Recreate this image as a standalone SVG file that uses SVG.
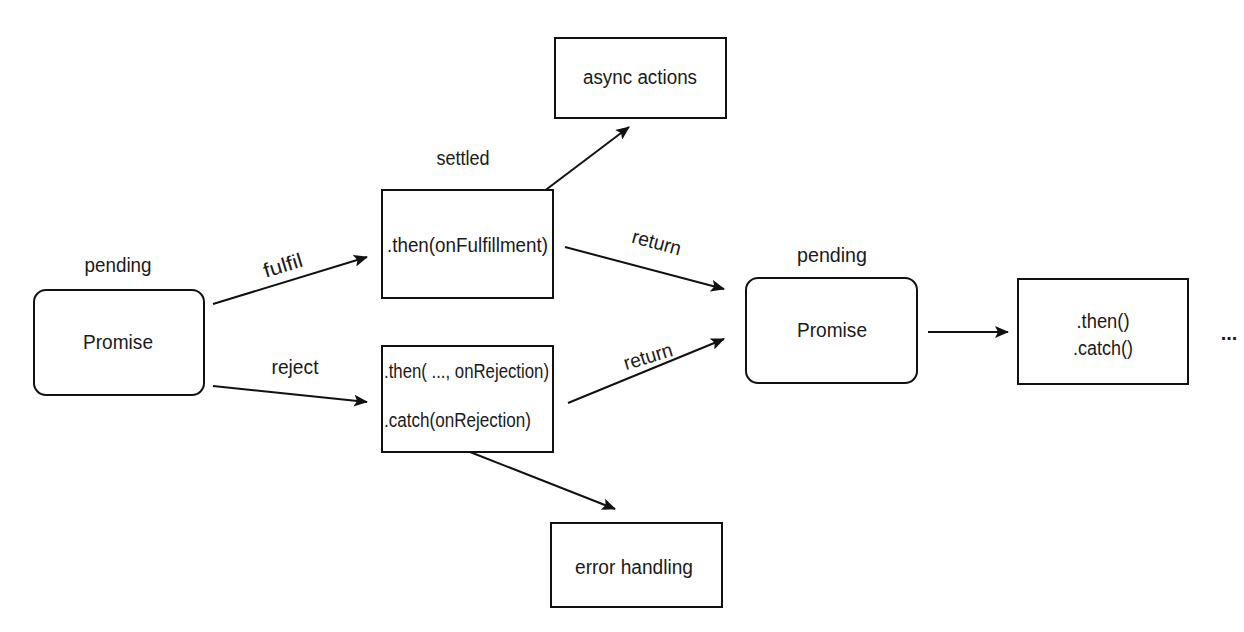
<svg xmlns="http://www.w3.org/2000/svg" width="1244" height="632" viewBox="0 0 1244 632">
<style>
.t{font-family:"Liberation Sans",Arial,sans-serif;font-size:20px;fill:#1a1a1a}
.m{text-anchor:middle}
.box{fill:#fff;stroke:#111;stroke-width:2}
.ln{stroke:#111;stroke-width:2;fill:none;marker-end:url(#ah)}
</style>
<defs>
<marker id="ah" viewBox="0 0 14 12" refX="13" refY="6" markerWidth="14" markerHeight="12" markerUnits="userSpaceOnUse" orient="auto">
<path d="M0,0 L14,6 L0,12 L3,6 Z" fill="#111"/>
</marker>
</defs>
<rect width="1244" height="632" fill="#fff"/>
<g id="connectors">
<line class="ln" x1="213" y1="304" x2="367" y2="257"/>
<line class="ln" x1="213" y1="386" x2="367" y2="402"/>
<line class="ln" x1="543" y1="192" x2="629" y2="127"/>
<line class="ln" x1="565" y1="247" x2="724" y2="289"/>
<line class="ln" x1="568" y1="403" x2="724" y2="339"/>
<line class="ln" x1="470" y1="452" x2="615" y2="509"/>
<line class="ln" x1="928" y1="332" x2="1008" y2="332"/>
<text class="t m" transform="translate(285,272) rotate(-17)" textLength="40" lengthAdjust="spacingAndGlyphs">fulfil</text>
<text class="t m" x="295" y="374" textLength="47" lengthAdjust="spacingAndGlyphs">reject</text>
<text class="t m" transform="translate(655,249) rotate(15)" textLength="50" lengthAdjust="spacingAndGlyphs">return</text>
<text class="t m" transform="translate(650,363) rotate(-17)" textLength="50" lengthAdjust="spacingAndGlyphs">return</text>
</g>
<g id="promise1">
<rect class="box" x="34" y="290" width="170" height="105" rx="12"/>
<text class="t m" x="118" y="272" textLength="67" lengthAdjust="spacingAndGlyphs">pending</text>
<text class="t m" x="118" y="349" textLength="70" lengthAdjust="spacingAndGlyphs">Promise</text>
</g>
<g id="then-fulfill">
<rect class="box" x="382" y="190" width="171" height="108"/>
<text class="t m" x="463" y="165" textLength="53" lengthAdjust="spacingAndGlyphs">settled</text>
<text class="t" x="387" y="252" textLength="161" lengthAdjust="spacingAndGlyphs">.then(onFulfillment)</text>
</g>
<g id="async">
<rect class="box" x="555" y="38" width="171" height="80"/>
<text class="t m" x="640" y="84" textLength="114" lengthAdjust="spacingAndGlyphs">async actions</text>
</g>
<g id="then-reject">
<rect class="box" x="382" y="346" width="171" height="106"/>
<text class="t" x="384" y="378" textLength="165" lengthAdjust="spacingAndGlyphs">.then( ..., onRejection)</text>
<text class="t" x="384" y="427" textLength="147" lengthAdjust="spacingAndGlyphs">.catch(onRejection)</text>
</g>
<g id="error">
<rect class="box" x="551" y="523" width="171" height="84"/>
<text class="t m" x="634" y="574" textLength="118" lengthAdjust="spacingAndGlyphs">error handling</text>
</g>
<g id="promise2">
<rect class="box" x="746" y="278" width="171" height="105" rx="12"/>
<text class="t m" x="832" y="262" textLength="70" lengthAdjust="spacingAndGlyphs">pending</text>
<text class="t m" x="832" y="337" textLength="70" lengthAdjust="spacingAndGlyphs">Promise</text>
</g>
<g id="chain">
<rect class="box" x="1018" y="279" width="170" height="105"/>
<text class="t m" x="1103" y="328" textLength="53" lengthAdjust="spacingAndGlyphs">.then()</text>
<text class="t m" x="1103" y="355" textLength="60" lengthAdjust="spacingAndGlyphs">.catch()</text>
</g>
<g id="ellipsis">
<text class="t m" x="1229" y="340" font-weight="bold">...</text>
</g>
</svg>
